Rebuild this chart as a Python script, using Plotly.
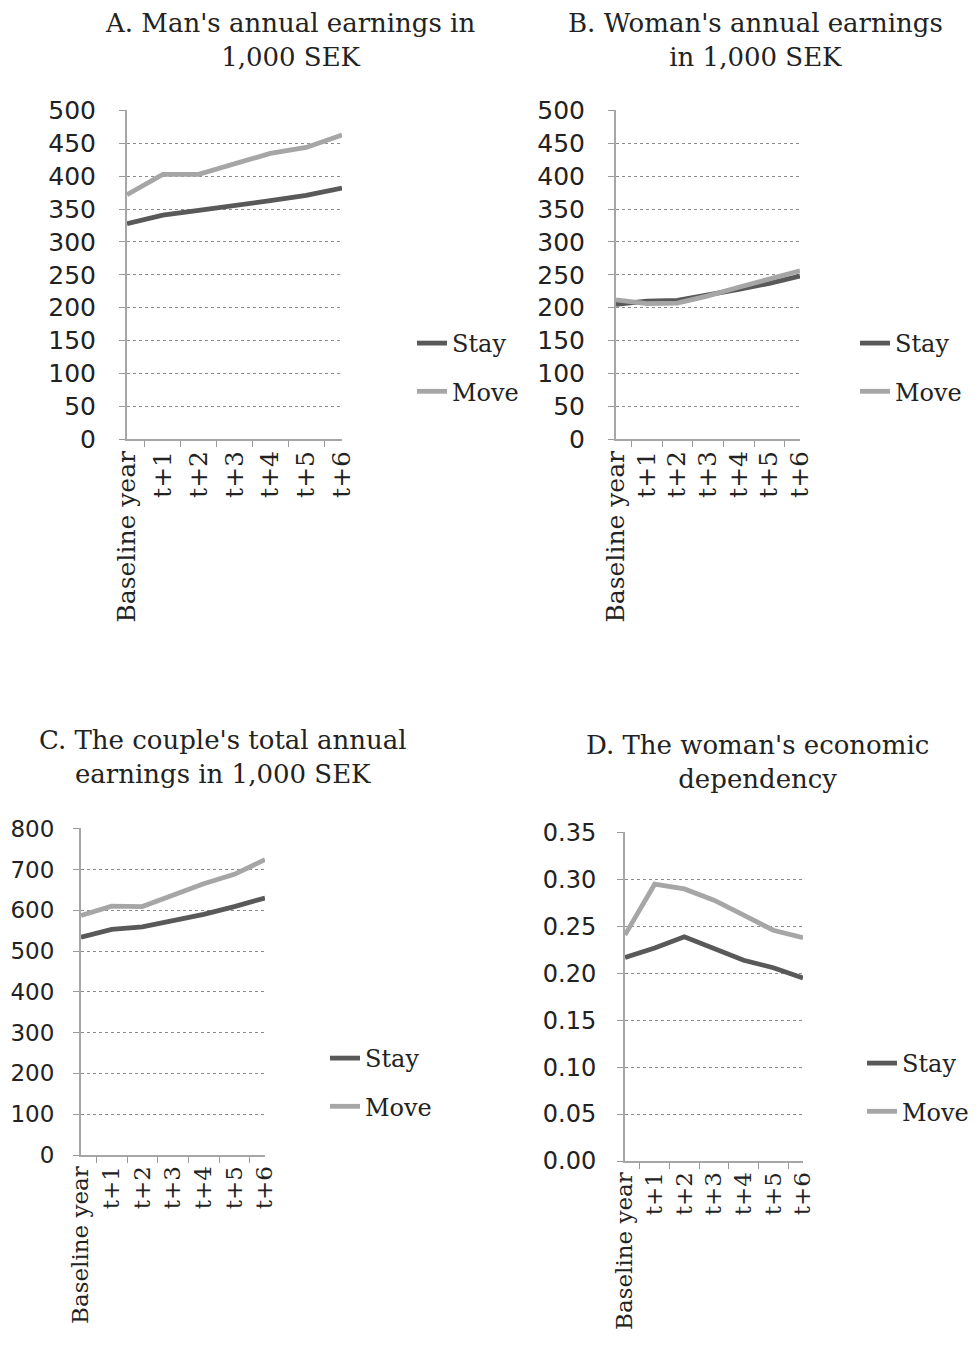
import plotly.graph_objects as go

categories = ["Baseline year", "t+1", "t+2", "t+3", "t+4", "t+5", "t+6"]

man_stay = [328, 341, 348, 355, 363, 371, 382]
man_move = [372, 403, 403, 419, 435, 444, 463]

woman_stay = [205, 210, 211, 219, 228, 237, 248]
woman_move = [212, 206, 207, 218, 231, 243, 256]

couple_stay = [534, 553, 559, 575, 590, 609, 630]
couple_move = [587, 610, 609, 636, 665, 688, 724]

dep_stay = [0.217, 0.227, 0.239, 0.226, 0.214, 0.206, 0.195]
dep_move = [0.241, 0.295, 0.290, 0.278, 0.262, 0.246, 0.238]

titles = [
    "A. Man's annual earnings in<br>1,000 SEK",
    "B. Woman's annual earnings<br>in 1,000 SEK",
    "C. The couple's total annual<br>earnings in 1,000 SEK",
    "D. The woman's economic<br>dependency",
]

# page body has an 8px margin, so the figure is sized and placed to fit the window
OFF = 8
W, H = 962, 1333
STAY_C = "#595959"
MOVE_C = "#A6A6A6"
SERIF = "DejaVu Serif"
SANS = "DejaVu Sans"


def px_x(v):
    return (v - OFF) / W


def px_y(v):
    return 1 - (v - OFF) / H


panels = [
    dict(data=(man_stay, man_move), xd=(127, 342), yd=(110, 439), yr=[0, 500], dt=50, fmt="d",
         leg=(412, 321), title=(290, 40), tfs=25, so=18, cfs=25),
    dict(data=(woman_stay, woman_move), xd=(616, 800), yd=(110, 439), yr=[0, 500], dt=50, fmt="d",
         leg=(855, 321), title=(755, 40), tfs=25, so=18, cfs=25),
    dict(data=(couple_stay, couple_move), xd=(81, 265), yd=(828, 1155), yr=[0, 800], dt=100, fmt="d",
         leg=(325, 1036), title=(222, 757), tfs=23, so=14, cfs=23),
    dict(data=(dep_stay, dep_move), xd=(625, 803), yd=(832, 1161), yr=[0, 0.35], dt=0.05, fmt=".2f",
         leg=(862, 1041), title=(757, 762), tfs=24, so=16, cfs=23),
]

fig = go.Figure()
layout = dict(
    width=W, height=H, margin=dict(l=0, r=0, t=0, b=0, autoexpand=False),
    paper_bgcolor="white", plot_bgcolor="white", showlegend=True,
    annotations=[], font=dict(family=SERIF, color="#222"),
)

for i, p in enumerate(panels, start=1):
    sfx = "" if i == 1 else str(i)
    xa, ya = "x" + sfx, "y" + sfx
    legname = "legend" if i == 1 else f"legend{i}"
    stay, move = p["data"]
    for name, vals, col, grp in (("Stay", stay, STAY_C, "s"), ("Move", move, MOVE_C, "m")):
        fig.add_trace(go.Scatter(
            x=categories, y=vals, name=name, mode="lines",
            line=dict(color=col, width=4.8),
            xaxis=xa, yaxis=ya, legend=legname, legendgroup=f"{grp}{i}",
        ))
    layout["xaxis" + sfx] = dict(
        domain=[px_x(p["xd"][0]), px_x(p["xd"][1])], anchor=ya,
        type="category", tickmode="array", tickvals=categories, ticktext=categories,
        tickson="boundaries", ticks="outside", ticklen=6,
        tickcolor="#999", showline=True, linecolor="#A6A6A6", linewidth=2,
        showgrid=False, tickangle=-90, automargin=False,
        tickfont=dict(family=SERIF, size=p["cfs"], color="#222"), fixedrange=True,
    )
    layout["yaxis" + sfx] = dict(
        domain=[px_y(p["yd"][1]), px_y(p["yd"][0])], anchor=xa,
        range=[p["yr"][0], p["yr"][1] * 1.002], dtick=p["dt"], tick0=0, tickformat=p["fmt"],
        ticks="outside", ticklen=6, tickcolor="#999",
        showline=True, linecolor="#A6A6A6", linewidth=2,
        showgrid=True, gridcolor="#8C8C8C", griddash="dot", gridwidth=1,
        zeroline=False, ticklabelstandoff=p["so"], automargin=False,
        tickfont=dict(family=SANS, size=p["tfs"], color="#222"), fixedrange=True,
    )
    layout[legname] = dict(
        x=px_x(p["leg"][0]), y=px_y(p["leg"][1]), xanchor="left", yanchor="top",
        font=dict(family=SERIF, size=24, color="#222"), bgcolor="rgba(0,0,0,0)",
        tracegroupgap=14, itemwidth=30,
    )
    layout["annotations"].append(dict(
        text=titles[i - 1], x=px_x(p["title"][0]), y=px_y(p["title"][1]),
        xref="paper", yref="paper", xanchor="center", yanchor="middle",
        showarrow=False, align="center",
        font=dict(family=SERIF, size=26, color="#222"),
    ))

fig.update_layout(**layout)
fig.write_html("out.html")
